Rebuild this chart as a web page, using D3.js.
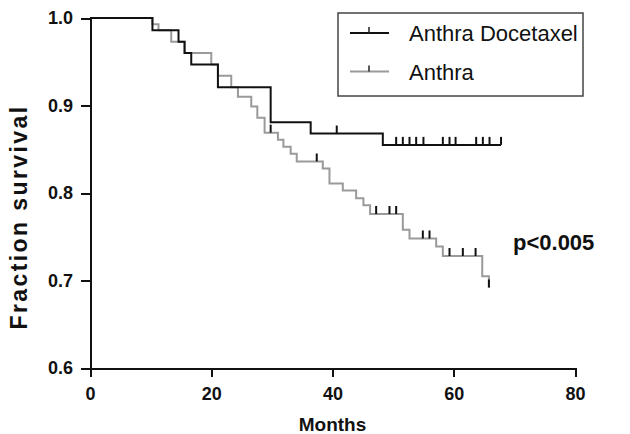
<!DOCTYPE html>
<meta charset="utf-8">
<script src="https://d3js.org/d3.v7.min.js"></script>
<style>
  body { margin: 0; background: #fff; font-family: "Liberation Sans", Arial, sans-serif; }
  .axis path, .axis line { stroke: #111; stroke-width: 2px; shape-rendering: crispEdges; }
  .axis text { font-size: 18px; font-weight: bold; fill: #111; }
  .km { fill: none; stroke-width: 2px; }
  .censor { stroke: #111; stroke-width: 2px; }
</style>
<div id="chart"></div>
<script>
  // Anthra Docetaxel (black): event times (months) and survival after each event
  var adTimes = [10.3, 14.6, 15.6, 16.7, 21.1, 29.8, 36.4, 48.3];
  var adSurv  = [0.986, 0.973, 0.960, 0.947, 0.921, 0.881, 0.868, 0.855];
  var adCensor = [40.7, 50.5, 51.6, 52.7, 53.8, 55.0, 58.2, 59.3, 60.3, 63.7, 64.8, 65.9, 67.8];
  var adEnd = 67.8;

  // Anthra (grey)
  var anTimes = [10.3, 11.3, 13.4, 15.6, 20.0, 21.1, 23.3, 24.4, 26.6, 27.6, 28.8,
                 31.0, 31.9, 33.1, 34.1, 38.4, 39.5, 41.7, 43.9, 45.1, 46.2,
                 51.6, 52.7, 57.1, 58.2, 64.7, 65.8];
  var anSurv  = [0.993, 0.986, 0.973, 0.960, 0.947, 0.934, 0.921, 0.910, 0.899, 0.886, 0.869,
                 0.861, 0.853, 0.845, 0.836, 0.828, 0.811, 0.803, 0.794, 0.786, 0.776,
                 0.758, 0.748, 0.739, 0.728, 0.705, 0.692];
  var anCensor = [29.8, 37.4, 47.2, 49.4, 50.5, 54.9, 56.0, 59.3, 61.5, 63.6, 65.8];
  var anEnd = 65.8;

  var xTicks = [0, 20, 40, 60, 80];
  var yTicks = [0.6, 0.7, 0.8, 0.9, 1.0];
  var groups = ["Anthra Docetaxel", "Anthra"];
  var colors = ["#111111", "#9a9a9a"];

  var margin = { top: 18, right: 55, bottom: 66, left: 90 },
    width = 630 - margin.left - margin.right,
    height = 434 - margin.top - margin.bottom;

  var svg = d3.select("#chart").append("svg")
    .attr("width", 630)
    .attr("height", 434)
    .append("g")
    .attr("transform", "translate(" + margin.left + "," + margin.top + ")");

  var x = d3.scaleLinear().domain([0, 80]).range([0, width]);
  var y = d3.scaleLinear().domain([0.6, 1.0]).range([height, 0]);

  // Axes
  svg.append("g")
    .attr("class", "axis")
    .attr("transform", "translate(0," + height + ")")
    .call(d3.axisBottom(x).tickValues(xTicks).tickSize(9).tickSizeOuter(0).tickPadding(10));

  svg.append("g")
    .attr("class", "axis")
    .call(d3.axisLeft(y).tickValues(yTicks).tickFormat(d3.format(".1f")).tickSize(9).tickSizeOuter(0).tickPadding(8));

  // step curves
  function km(times, surv, end) {
    var pts = [[0, 1]];
    times.forEach(function (t, i) { pts.push([t, surv[i]]); });
    pts.push([end, surv[surv.length - 1]]);
    return pts;
  }
  function survAt(times, surv, t) {
    var s = 1;
    times.forEach(function (tt, i) { if (tt <= t) s = surv[i]; });
    return s;
  }

  var line = d3.line()
    .x(function (d) { return x(d[0]); })
    .y(function (d) { return y(d[1]); })
    .curve(d3.curveStepAfter);

  var series = [
    { times: anTimes, surv: anSurv, end: anEnd, censor: anCensor, color: colors[1] },
    { times: adTimes, surv: adSurv, end: adEnd, censor: adCensor, color: colors[0] }
  ];

  series.forEach(function (s) {
    svg.append("path")
      .datum(km(s.times, s.surv, s.end))
      .attr("class", "km")
      .attr("stroke", s.color)
      .attr("d", line);
  });

  series.forEach(function (s) {
    svg.selectAll(null)
      .data(s.censor)
      .enter().append("line")
      .attr("class", "censor")
      .attr("x1", function (d) { return x(d); })
      .attr("x2", function (d) { return x(d); })
      .attr("y1", function (d) { return y(survAt(s.times, s.surv, d)); })
      .attr("y2", function (d) { return y(survAt(s.times, s.surv, d)) - 8; });
  });

  // Axis labels
  svg.append("text")
    .attr("x", width / 2)
    .attr("y", height + 63)
    .attr("text-anchor", "middle")
    .style("font-size", "19px")
    .style("font-weight", "bold")
    .attr("fill", "#111")
    .text("Months");

  svg.append("text")
    .attr("transform", "translate(" + (-63) + "," + (height / 2 + 24) + ")rotate(-90)")
    .attr("text-anchor", "middle")
    .style("font-size", "23px")
    .style("font-weight", "bold")
    .style("letter-spacing", "2.4px")
    .attr("fill", "#111")
    .text("Fraction survival");

  svg.append("text")
    .attr("x", 423)
    .attr("y", 232)
    .style("font-size", "22px")
    .style("font-weight", "bold")
    .attr("fill", "#111")
    .text("p<0.005");

  // Legend
  var lg = svg.append("g").attr("transform", "translate(248,-5)");
  lg.append("rect")
    .attr("x", 0).attr("y", 0)
    .attr("width", 245).attr("height", 83)
    .attr("fill", "#fff")
    .attr("stroke", "#444")
    .attr("stroke-width", 1.5);

  groups.forEach(function (g, i) {
    var ly = 20 + i * 38.5;
    lg.append("line")
      .attr("x1", 12).attr("x2", 51).attr("y1", ly).attr("y2", ly)
      .attr("stroke", colors[i]).attr("stroke-width", 2);
    lg.append("line")
      .attr("x1", 31).attr("x2", 31).attr("y1", ly).attr("y2", ly - 6)
      .attr("stroke", "#222").attr("stroke-width", 1.5);
    lg.append("text")
      .attr("x", 71).attr("y", ly + 8)
      .style("font-size", "22px")
      .attr("fill", "#111")
      .text(g);
  });
</script>
